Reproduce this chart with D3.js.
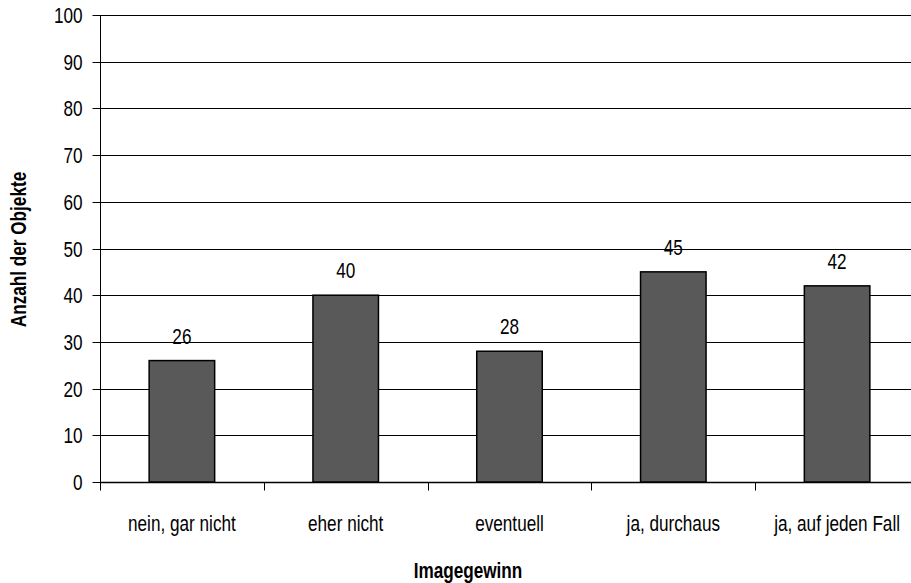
<!DOCTYPE html>
<html><head><meta charset="utf-8">
<script src="https://cdn.jsdelivr.net/npm/d3@7"></script>
<style>
body{margin:0;background:#fff;}
text{font-family:"Liberation Sans",sans-serif;fill:#000;}
</style></head>
<body><svg id="c" width="911" height="583"></svg>
<script>
const categories = ["nein, gar nicht","eher nicht","eventuell","ja, durchaus","ja, auf jeden Fall"];
const values = [26,40,28,45,42];
const yTicks = [0,10,20,30,40,50,60,70,80,90,100];
const xTitle = "Imagegewinn";
const yTitle = "Anzahl der Objekte";

const SX = 0.78, FS = 22;
const svg = d3.select("#c");
const pL=100, pR=919, pT=15, pB=482;
const x = d3.scaleBand().domain(categories).range([pL,pR]).paddingInner(0.6).paddingOuter(0.3);
const xb = d3.scaleBand().domain(categories).range([pL,pR]);
const y = d3.scaleLinear().domain([0,100]).range([pB,pT]);

// gridlines
svg.append("g").selectAll("line").data(yTicks.filter(d=>d>0)).join("line")
  .attr("x1",pL).attr("x2",pR).attr("y1",d=>Math.round(y(d))+0.5).attr("y2",d=>Math.round(y(d))+0.5)
  .attr("stroke","#000").attr("stroke-width",1);

// y axis
const ya = svg.append("g").attr("transform",`translate(${pL+0.5},0)`)
  .call(d3.axisLeft(y).tickValues(yTicks).tickSize(8).tickPadding(6).tickFormat(d3.format("d")));
ya.select(".domain").attr("stroke","#000").attr("d",`M0,${pT}V${pB}`);
ya.selectAll(".tick line").attr("stroke","#000");
ya.selectAll(".tick").attr("transform",d=>`translate(0,${Math.round(y(d))+0.5})`);
ya.selectAll("text").attr("font-size",FS).attr("font-family","Liberation Sans").attr("fill","#000")
  .attr("x",0).attr("dy","0.36em").attr("transform",`translate(-18,0) scale(${SX},1)`);

// x axis
const xa = svg.append("g").attr("transform",`translate(0,${pB+0.5})`);
xa.append("line").attr("x1",pL).attr("x2",pR).attr("stroke","#000").attr("stroke-width",1.5);
const bounds = categories.map(c=>xb(c)).concat([pR]);
xa.selectAll(".tk").data(bounds).join("line").attr("class","tk")
  .attr("x1",d=>Math.round(d)+0.5).attr("x2",d=>Math.round(d)+0.5).attr("y1",0).attr("y2",8).attr("stroke","#000");
xa.selectAll(".lbl").data(categories).join("text").attr("class","lbl")
  .attr("transform",d=>`translate(${xb(d)+xb.bandwidth()/2},48.5) scale(${SX},1)`).attr("text-anchor","middle")
  .attr("font-size",FS).text(d=>d);

// bars
svg.append("g").selectAll("rect").data(values).join("rect")
  .attr("x",(d,i)=>x(categories[i])).attr("width",x.bandwidth())
  .attr("y",d=>y(d)).attr("height",d=>y(0)-y(d))
  .attr("fill","#595959").attr("stroke","#000").attr("stroke-width",1.5);

// value labels
svg.append("g").selectAll("text").data(values).join("text")
  .attr("transform",(d,i)=>`translate(${x(categories[i])+x.bandwidth()/2},${y(d)-17}) scale(${SX},1)`)
  .attr("text-anchor","middle").attr("font-size",FS).text(d=>d);

// titles
svg.append("text").attr("transform",`translate(468,578) scale(${SX},1)`).attr("text-anchor","middle")
  .attr("font-size",FS).attr("font-weight","bold").text(xTitle);
svg.append("text").attr("transform",`translate(26,${(pT+pB)/2+1}) rotate(-90) scale(${SX},1)`)
  .attr("text-anchor","middle").attr("font-size",FS).attr("font-weight","bold").text(yTitle);
</script></body></html>
